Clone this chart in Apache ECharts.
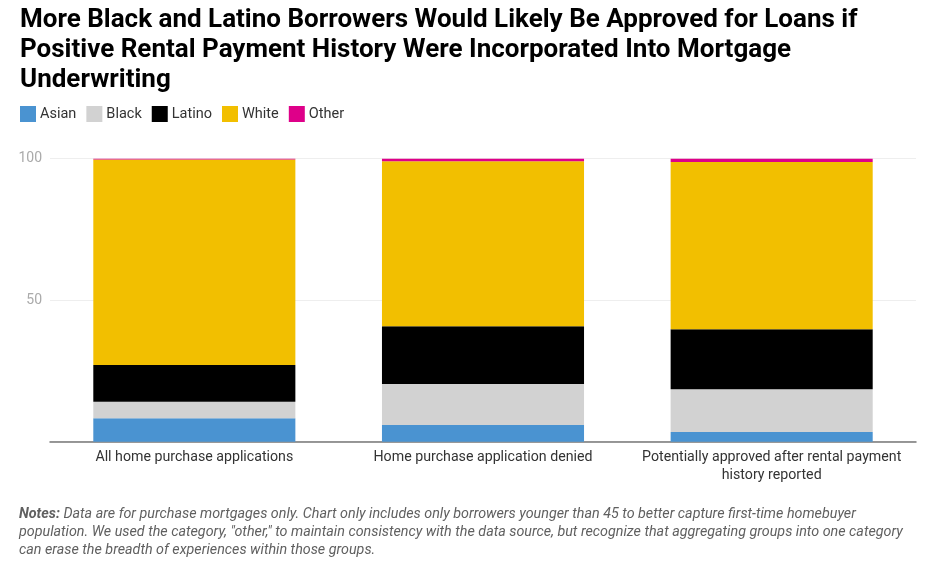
<!DOCTYPE html>
<html>
<head>
<meta charset="utf-8">
<style>
  html, body { margin: 0; padding: 0; background: #fff; }
  #chart { width: 936px; height: 565px; }
</style>
<script src="https://cdn.jsdelivr.net/npm/echarts@6/dist/echarts.min.js"></script>
</head>
<body>
<div id="chart"></div>
<script>
// categories and shares (percent)
const categories = [
    'All home purchase applications',
    'Home purchase application denied',
    'Potentially approved after rental payment\nhistory reported'
];
const asian  = [8.3, 5.9, 3.4];
const black  = [5.8, 14.5, 15.1];
const latino = [13.0, 20.4, 21.2];
const white  = [72.6, 58.3, 59.1];
const other  = [0.3, 0.9, 1.2];
const yTicks = [0, 50, 100];

const groups = [
    {name: 'Asian',  data: asian,  color: '#4a93d1'},
    {name: 'Black',  data: black,  color: '#d2d2d2'},
    {name: 'Latino', data: latino, color: '#000000'},
    {name: 'White',  data: white,  color: '#f2bf00'},
    {name: 'Other',  data: other,  color: '#de0089'}
];

let chart = echarts.init(document.getElementById('chart'));

chart.setOption({
    animation: false,
    textStyle: {fontFamily: 'Roboto'},
    title: {
        text: 'More Black and Latino Borrowers Would Likely Be Approved for Loans if\nPositive Rental Payment History Were Incorporated Into Mortgage\nUnderwriting',
        left: 15,
        top: 0,
        textStyle: {
            color: '#000',
            fontSize: 26,
            fontWeight: 'bold',
            lineHeight: 30,
            fontFamily: 'Roboto'
        }
    },
    legend: {
        left: 20,
        top: 106,
        padding: 0,
        itemWidth: 16,
        itemHeight: 16,
        itemGap: 10,
        icon: 'rect',
        textStyle: {color: '#333', fontSize: 14.5, padding: [0, 0, 0, -1]},
        data: groups.map(g => g.name)
    },
    grid: {
        left: 50,
        right: 20,
        top: 158.7,
        bottom: 123.3,
        containLabel: false
    },
    xAxis: {
        type: 'category',
        data: categories,
        axisTick: {show: false},
        axisLine: {lineStyle: {color: '#777', width: 1.5}},
        axisLabel: {color: '#333', fontSize: 14.2, margin: 7, lineHeight: 17.5, interval: 0}
    },
    yAxis: {
        type: 'value',
        min: yTicks[0],
        max: yTicks[yTicks.length - 1],
        interval: yTicks[1] - yTicks[0],
        axisLine: {show: false},
        axisTick: {show: false},
        axisLabel: {
            color: '#aaa',
            fontSize: 14,
            margin: 8,
            formatter: v => v === 0 ? '' : v
        },
        splitLine: {lineStyle: {color: '#eeeeee'}}
    },
    series: groups.map(g => ({
        name: g.name,
        type: 'bar',
        stack: 'share',
        barWidth: '70%',
        data: g.data,
        itemStyle: {color: g.color}
    })),
    graphic: [{
        type: 'text',
        left: 19,
        top: 505,
        style: {
            text: '{b|Notes:} Data are for purchase mortgages only. Chart only includes only borrowers younger than 45 to better capture first-time homebuyer\npopulation. We used the category, "other," to maintain consistency with the data source, but recognize that aggregating groups into one category\ncan erase the breadth of experiences within those groups.',
            fill: '#606060',
            fontSize: 14.3,
            fontStyle: 'italic',
            fontFamily: 'Roboto',
            lineHeight: 18,
            rich: {
                b: {fontWeight: 'bold', fontStyle: 'italic', fill: '#606060', fontSize: 14.3, fontFamily: 'Roboto', lineHeight: 18}
            }
        }
    }]
});
</script>
</body>
</html>
